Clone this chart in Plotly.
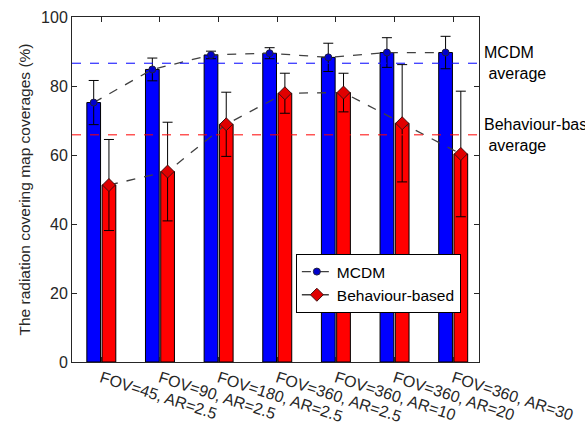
import plotly.graph_objects as go

# Sensor configurations (field of view / aspect ratio)
categories = [
    "FOV=45, AR=2.5", "FOV=90, AR=2.5", "FOV=180, AR=2.5",
    "FOV=360, AR=2.5", "FOV=360, AR=10", "FOV=360, AR=20", "FOV=360, AR=30",
]

# Mean coverage (%) and standard deviation per configuration
mcdm_mean = [75.2, 84.8, 89.0, 89.5, 88.3, 89.7, 89.7]
mcdm_std = [6.4, 3.3, 1.1, 1.6, 4.1, 4.3, 4.7]
behav_mean = [51.3, 55.2, 68.9, 77.9, 78.1, 69.2, 60.3]
behav_std = [13.2, 14.3, 9.3, 5.8, 5.6, 17.0, 18.2]

mcdm_avg = sum(mcdm_mean) / len(mcdm_mean)
behav_avg = sum(behav_mean) / len(behav_mean)

xs = list(range(1, len(categories) + 1))
shift = 0.13
x_mcdm = [x - shift for x in xs]
x_behav = [x + shift for x in xs]

FONT = "Liberation Sans, Arial, Helvetica, sans-serif"
AX = "#262626"

fig = go.Figure()

fig.add_trace(go.Bar(x=xs, y=mcdm_mean, marker=dict(color="#0000FF", line=dict(color="#000000", width=1)),
                     showlegend=False, hoverinfo="skip"))
fig.add_trace(go.Bar(x=xs, y=behav_mean, marker=dict(color="#FF0000", line=dict(color="#000000", width=1)),
                     showlegend=False, hoverinfo="skip"))

fig.add_trace(go.Scatter(
    x=x_mcdm, y=mcdm_mean, mode="lines+markers", name="MCDM",
    line=dict(color="#404040", width=1.3, dash="dash"),
    marker=dict(symbol="circle", size=7, color="#0000CC", line=dict(color="#202040", width=1)),
    error_y=dict(type="data", array=mcdm_std, color="#000000", thickness=1, width=5),
))
fig.add_trace(go.Scatter(
    x=x_behav, y=behav_mean, mode="lines+markers", name="Behaviour-based",
    line=dict(color="#404040", width=1.3, dash="dash"),
    marker=dict(symbol="diamond", size=10, color="#E00000", line=dict(color="#401010", width=1)),
    error_y=dict(type="data", array=behav_std, color="#000000", thickness=1, width=5),
))

# Average reference lines
fig.add_hline(y=mcdm_avg, line=dict(color="#0000FF", width=1, dash="dash"))
fig.add_hline(y=behav_avg, line=dict(color="#FF0000", width=1, dash="dash"))

fig.add_annotation(x=1.0, xref="paper", xshift=3, y=mcdm_avg, yref="y", text="MCDM<br> average",
                   showarrow=False, xanchor="left", yanchor="middle", align="left",
                   font=dict(family=FONT, size=16, color="#000000"))
fig.add_annotation(x=1.0, xref="paper", xshift=3, y=behav_avg, yref="y", text="Behaviour-based<br> average",
                   showarrow=False, xanchor="left", yanchor="middle", align="left",
                   font=dict(family=FONT, size=16, color="#000000"))

fig.update_layout(
    width=585, height=426,
    margin=dict(l=72, r=106, t=17, b=64),
    paper_bgcolor="white", plot_bgcolor="white",
    barmode="group", bargap=0.48, bargroupgap=0.1,
    font=dict(family=FONT, size=16, color=AX),
    legend=dict(x=0.55, y=0.313, xanchor="left", yanchor="top",
                bgcolor="white", bordercolor="#000000", borderwidth=1,
                font=dict(family=FONT, size=15.5, color="#000000"),
                tracegroupgap=0, itemwidth=30),
    xaxis=dict(range=[0.5, 7.44], tickmode="array", tickvals=xs, ticktext=categories,
               tickangle=18, ticks="inside", ticklen=5, tickcolor=AX,
               showline=True, linecolor=AX, linewidth=1, mirror="ticks",
               showgrid=False, zeroline=False, automargin=False,
               tickfont=dict(size=16, color=AX)),
    yaxis=dict(range=[0, 100], dtick=20, ticks="inside", ticklen=5, tickcolor=AX,
               showline=True, linecolor=AX, linewidth=1, mirror="ticks",
               showgrid=False, zeroline=False, automargin=False,
               tickfont=dict(size=16, color=AX),
               title=dict(text="The radiation covering map coverages (%)",
                          font=dict(size=15.5, color=AX), standoff=6)),
)

fig.write_html("out.html")
